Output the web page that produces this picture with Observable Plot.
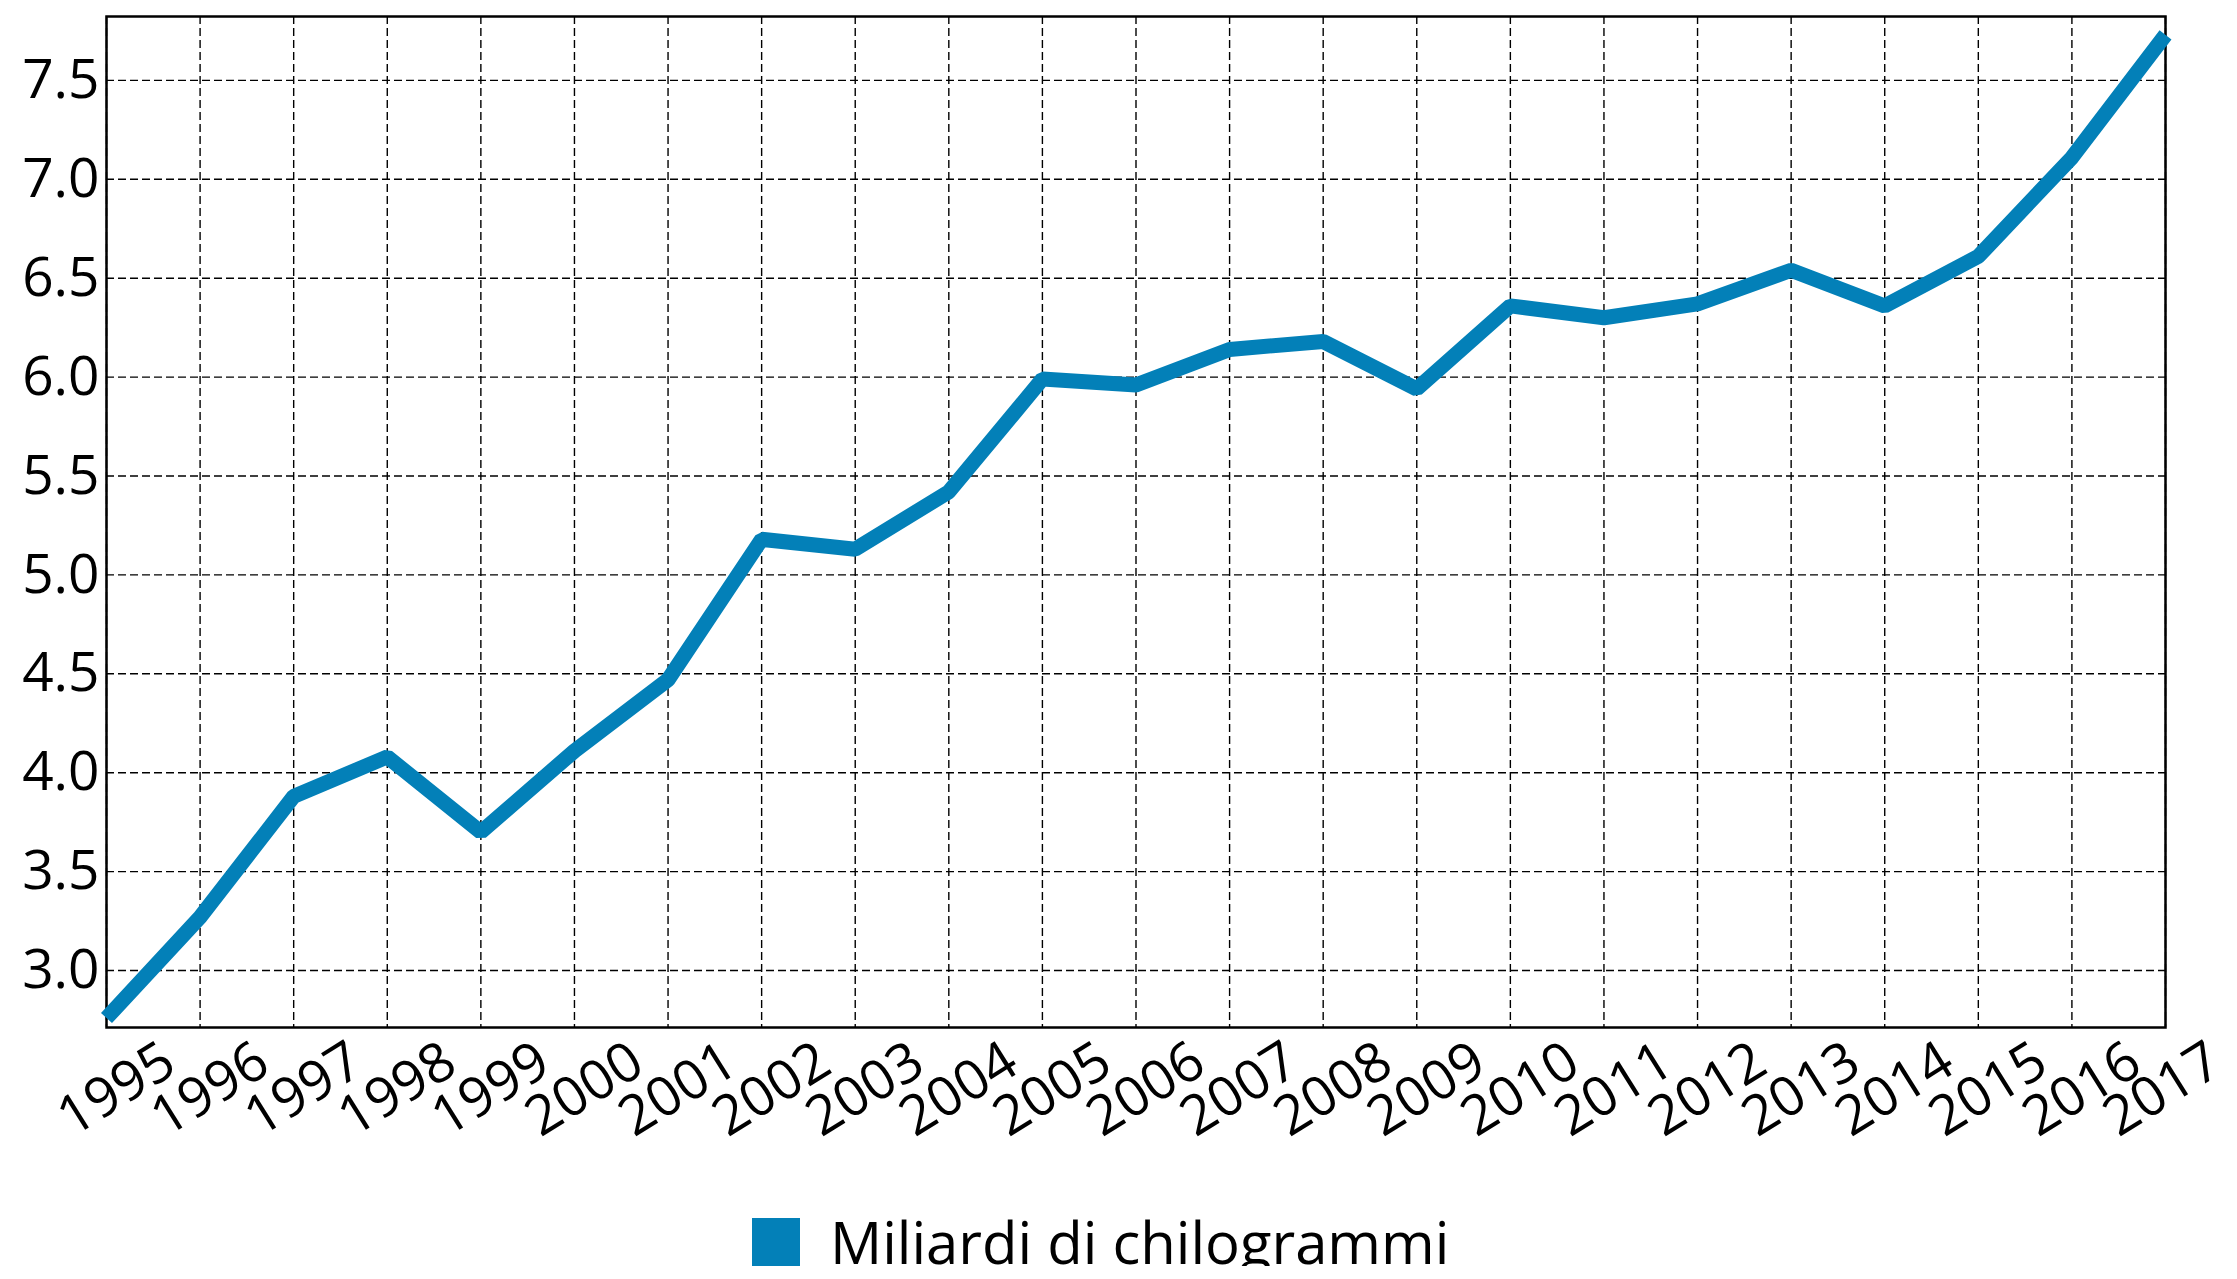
<!DOCTYPE html>
<html>
<head>
<meta charset="utf-8">
<script src="https://cdn.jsdelivr.net/npm/d3@7"></script>
<script src="https://cdn.jsdelivr.net/npm/@observablehq/plot@0.6"></script>
<style>
  html, body { margin: 0; padding: 0; background: #fff; overflow: hidden; }
  body { font-family: "Open Sans", sans-serif; }
  #legend { display: flex; align-items: center; margin-left: 752px; padding-top: 28px; }
  #legend .sw { width: 48px; height: 48px; background: #0380b8; flex: none; }
  #legend .lb { margin-left: 30px; font-size: 58px; line-height: 48px; color: #000; white-space: nowrap; }
</style>
</head>
<body>
<div id="chart"></div>
<div id="legend"><div class="sw"></div><div class="lb">Miliardi di chilogrammi</div></div>
<script>
const years = [1995,1996,1997,1998,1999,2000,2001,2002,2003,2004,2005,2006,2007,2008,2009,2010,2011,2012,2013,2014,2015,2016,2017];
const values = [2.76,3.27,3.88,4.08,3.70,4.11,4.47,5.18,5.13,5.42,5.99,5.96,6.14,6.18,5.94,6.36,6.30,6.37,6.54,6.36,6.61,7.11,7.73];
const yTicks = [3.0,3.5,4.0,4.5,5.0,5.5,6.0,6.5,7.0,7.5];
const seriesName = "Miliardi di chilogrammi";

const data = years.map((y, i) => ({year: y, value: values[i]}));
const lastYear = years[years.length - 1];
const xLabelOpts = {tickFormat: d => String(d), tickSize: 0, tickPadding: 62, tickRotate: -32, textAnchor: "middle", lineAnchor: "middle", fontSize: 55, label: null};

const chart = Plot.plot({
  width: 2237,
  height: 1190,
  marginTop: 16,
  marginLeft: 106,
  marginRight: 72,
  marginBottom: 163,
  style: {fontFamily: "Open Sans", color: "#000", background: "#fff", overflow: "visible"},
  x: {domain: [years[0], lastYear]},
  y: {domain: [2.712, 7.823]},
  marks: [
    Plot.gridX(years, {stroke: "#000", strokeOpacity: 1, strokeWidth: 1.4, strokeDasharray: "8,4"}),
    Plot.gridY(yTicks, {stroke: "#000", strokeOpacity: 1, strokeWidth: 1.4, strokeDasharray: "8,4"}),
    Plot.frame({stroke: "#000", strokeWidth: 2.5}),
    Plot.axisY(yTicks, {tickFormat: d3.format(".1f"), tickSize: 0, tickPadding: 7, fontSize: 55, label: null}),
    Plot.axisX(years.filter(d => d !== lastYear), {...xLabelOpts, dx: 10}),
    Plot.axisX([lastYear], {...xLabelOpts, dx: -3}),
    Plot.line(data, {x: "year", y: "value", stroke: "#0380b8", strokeWidth: 15, strokeLinejoin: "miter", strokeLinecap: "butt"})
  ]
});
document.getElementById("chart").appendChild(chart);
</script>
</body>
</html>
